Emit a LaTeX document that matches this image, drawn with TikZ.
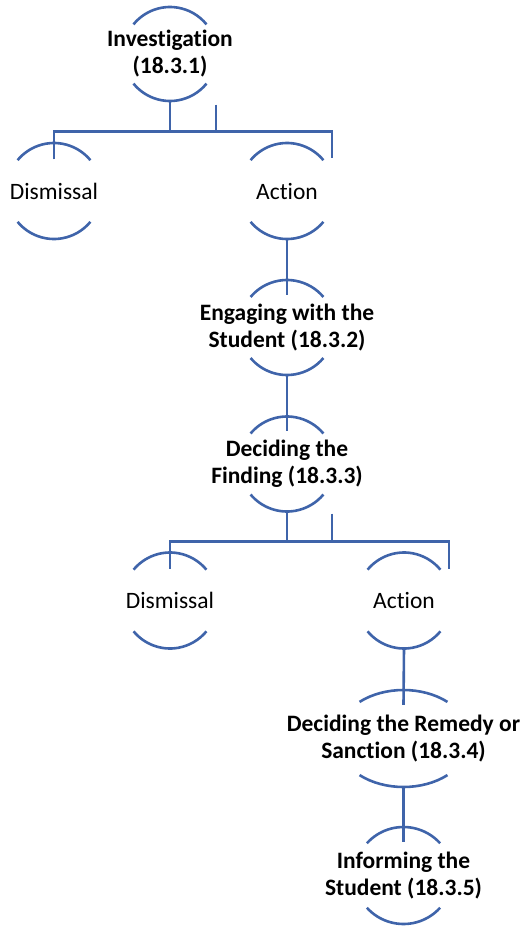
\documentclass[tikz,border=0pt]{standalone}
\usepackage{fontspec}
\setmainfont[Ligatures=NoCommon]{Carlito}
\usetikzlibrary{calc}
\definecolor{lineblue}{RGB}{63,100,170}
\tikzset{
  ln/.style={draw=lineblue, line width=2.6pt},
  ring/.style={rectangle, inner sep=0pt, minimum height=95pt, align=center,
    font=\fontsize{23.5pt}{27pt}\selectfont},
  bring/.style={ring, font=\fontsize{23.5pt}{27pt}\selectfont\bfseries},
}
\newcommand{\twoarcs}[4]{%
  \draw[ln] ([shift={({-#2*cos(#4)},{#3*sin(#4)})}]#1.center)
    arc[start angle={180-#4}, end angle={#4}, x radius=#2, y radius=#3];
  \draw[ln] ([shift={({-#2*cos(#4)},{-#3*sin(#4)})}]#1.center)
    arc[start angle={180+#4}, end angle={360-#4}, x radius=#2, y radius=#3];
}
\begin{document}
\begin{tikzpicture}[x=1pt,y=1pt]
\useasboundingbox (0,0) rectangle (524,-927);
% text nodes (centres of the rings)
\node[bring] (n1) at (170,-54) {Investigation\\(18.3.1)};
\node[ring] (d1) at (54,-191) {Dismissal};
\node[ring] (a1) at (287,-191) {Action};
\node[bring] (e) at (287,-327.5) {Engaging with the\\Student (18.3.2)};
\node[bring] (f) at (287,-464) {Deciding the\\Finding (18.3.3)};
\node[ring] (d2) at (170,-600.5) {Dismissal};
\node[ring] (a2) at (404,-600.5) {Action};
\node[bring, minimum height=97pt] (r) at (403.5,-738.5) {Deciding the Remedy or\\Sanction (18.3.4)};
\node[bring, minimum height=97pt] (i) at (403.5,-875.5) {Informing the\\Student (18.3.5)};
% arcs
\twoarcs{n1}{47}{47}{39}
\twoarcs{d1}{47.5}{48}{40}
\twoarcs{a1}{47.5}{48}{40}
\twoarcs{e}{47.5}{47.5}{40}
\twoarcs{f}{47.5}{47.5}{40}
\twoarcs{d2}{47.5}{48}{40}
\twoarcs{a2}{47.5}{48}{40}
\twoarcs{r}{67}{48.5}{49}
\twoarcs{i}{49}{48.5}{41.7}
% first split
\coordinate (j1) at ([yshift=-30pt]n1.south);
\draw[ln] (n1.south) -- (j1);
\draw[ln] ([yshift=-16pt]d1.north) |- ([xshift=45pt]a1.north |- j1) -- ([xshift=45pt,yshift=-15pt]a1.north);
\draw[ln] ([xshift=46pt,yshift=-3pt]n1.south) -- ([xshift=46pt]n1.south |- j1);
% stems
\draw[ln] (a1.south) -- ([yshift=-15pt]e.north);
\draw[ln] (e.south) -- ([yshift=-15pt]f.north);
% second split
\coordinate (j2) at ([yshift=-30pt]f.south);
\draw[ln] (f.south) -- (j2);
\draw[ln] ([yshift=-16pt]d2.north) |- ([xshift=45pt]a2.north |- j2) -- ([xshift=45pt,yshift=-16pt]a2.north);
\draw[ln] ([xshift=45pt,yshift=-2pt]f.south) -- ([xshift=45pt]f.south |- j2);
% lower stems
\draw[ln] (a2.south) -- ([yshift=-15pt]r.north);
\draw[ln] (r.south) -- ([yshift=-15pt]i.north);
\end{tikzpicture}
\end{document}
